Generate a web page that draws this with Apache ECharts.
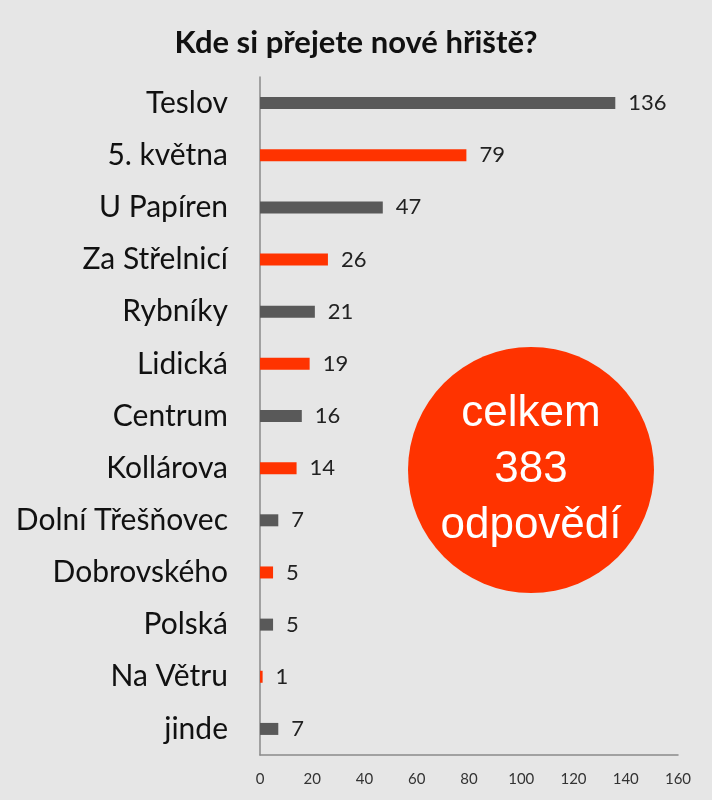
<!DOCTYPE html>
<html>
<head>
<meta charset="utf-8">
<script src="https://cdn.jsdelivr.net/npm/echarts@6/dist/echarts.min.js"></script>
<style>
  html, body { margin: 0; padding: 0; background: #e6e6e6; }
  #chart { width: 712px; height: 800px; }
</style>
</head>
<body>
<div id="chart"></div>
<script>
// kategorie (odshora dolu)
var categories = ['Teslov', '5. května', 'U Papíren', 'Za Střelnicí', 'Rybníky', 'Lidická',
    'Centrum', 'Kollárova', 'Dolní Třešňovec', 'Dobrovského', 'Polská', 'Na Větru', 'jinde'];
// počet odpovědí
var values = [136, 79, 47, 26, 21, 19, 16, 14, 7, 5, 5, 1, 7];
var axisTicks = [0, 20, 40, 60, 80, 100, 120, 140, 160];
var totalText = ['celkem', '383', 'odpovědí'];

var colors = ['#595959', '#ff3300'];

var myChart = echarts.init(document.getElementById('chart'));

var option = {
    backgroundColor: '#e6e6e6',
    animation: false,
    title: {
        text: 'Kde si přejete nové hřiště?',
        left: 'center',
        top: 22,
        textStyle: {
            fontFamily: 'Lato',
            fontWeight: 'bold',
            fontSize: 31,
            color: '#111'
        }
    },
    grid: {
        left: 260,
        right: 34,
        top: 77,
        bottom: 45
    },
    xAxis: {
        type: 'value',
        min: axisTicks[0],
        max: axisTicks[axisTicks.length - 1],
        interval: 20,
        splitLine: { show: false },
        axisTick: { show: false },
        axisLine: { show: true, lineStyle: { color: '#8a8a8a', width: 1.5 } },
        axisLabel: {
            margin: 17,
            fontFamily: 'Lato',
            fontSize: 15,
            color: '#333'
        }
    },
    yAxis: {
        type: 'category',
        inverse: true,
        data: categories,
        axisTick: { show: false },
        axisLine: { show: true, lineStyle: { color: '#8a8a8a', width: 1.5 } },
        axisLabel: {
            margin: 32,
            fontFamily: 'Lato',
            fontSize: 30,
            color: '#111'
        }
    },
    series: [{
        type: 'bar',
        data: values.map(function (v, i) {
            return { value: v, itemStyle: { color: colors[i % 2] } };
        }),
        barWidth: 12,
        label: {
            show: true,
            position: 'right',
            distance: 13,
            fontFamily: 'Lato',
            fontSize: 22,
            color: '#222'
        }
    }],
    graphic: [{
        type: 'circle',
        shape: { cx: 531, cy: 470, r: 123 },
        style: { fill: '#ff3300' }
    }, {
        type: 'text',
        x: 531,
        y: 470,
        style: {
            text: totalText.join('\n'),
            fill: '#ffffff',
            fontFamily: 'Liberation Sans',
            fontSize: 44,
            lineHeight: 56,
            align: 'center',
            verticalAlign: 'middle'
        }
    }]
};

myChart.setOption(option);
</script>
</body>
</html>
